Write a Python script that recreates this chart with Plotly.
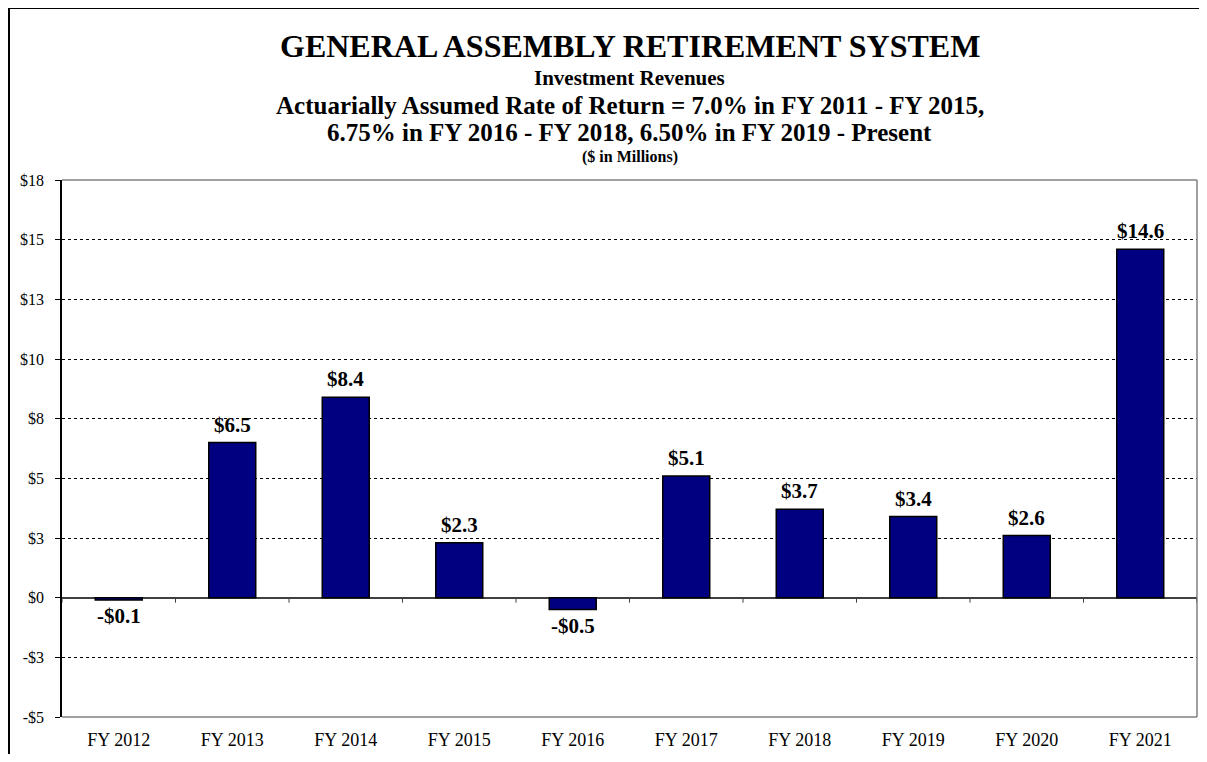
import plotly.graph_objects as go

categories = ["FY 2012", "FY 2013", "FY 2014", "FY 2015", "FY 2016",
              "FY 2017", "FY 2018", "FY 2019", "FY 2020", "FY 2021"]
revenues = [-0.1, 6.5, 8.4, 2.3, -0.5, 5.1, 3.7, 3.4, 2.6, 14.6]
y_tickvals = [-5, -2.5, 0, 2.5, 5, 7.5, 10, 12.5, 15, 17.5]
y_ticktext = ["-$5", "-$3", "$0", "$3", "$5", "$8", "$10", "$13", "$15", "$18"]

FONT = "Liberation Serif, Times New Roman, serif"

W, H = 1191, 746
ML, MR, MT, MB = 54, 2, 172, 37
PW = W - ML - MR
PH = H - MT - MB


def fmt(v):
    return f"-${abs(v):.1f}" if v < 0 else f"${v:.1f}"


x_idx = list(range(len(categories)))

fig = go.Figure()
fig.add_trace(go.Bar(
    x=x_idx, y=revenues, width=0.414,
    marker=dict(color="#000080", line=dict(color="black", width=1.5)),
    hoverinfo="skip", showlegend=False,
))

annotations = []
for xi, v in zip(x_idx, revenues):
    annotations.append(dict(
        x=xi, y=v, xref="x", yref="y", text=f"<b>{fmt(v)}</b>", showarrow=False,
        yanchor="bottom" if v >= 0 else "top",
        yshift=4 if v >= 0 else -2,
        font=dict(family=FONT, size=21, color="black"),
    ))


def py(p):  # figure-pixel y -> paper
    return (MT + PH - p) / PH


def px(p):  # figure-pixel x -> paper
    return (p - ML) / PW


titles = [
    ("GENERAL ASSEMBLY RETIREMENT SYSTEM", 38, 32),
    ("Investment Revenues", 70, 21),
    ("Actuarially Assumed Rate of Return = 7.0% in FY 2011 - FY 2015,", 97, 25),
    ("6.75% in FY 2016 - FY 2018, 6.50% in FY 2019 - Present", 124, 25),
    ("($ in Millions)", 149, 16),
]
for t, yp, s in titles:
    annotations.append(dict(
        x=0.5, y=py(yp), xref="paper", yref="paper", text=f"<b>{t}</b>",
        showarrow=False, yanchor="middle", xanchor="center",
        font=dict(family=FONT, size=s, color="black"),
    ))

shapes = []
for x0, x1, y0, y1 in [(0, 1, 1, 1), (1, 1, 0, 1), (0, 1, 0, 0)]:
    shapes.append(dict(type="line", xref="paper", yref="paper", x0=x0, x1=x1, y0=y0, y1=y1,
                       line=dict(color="#808080", width=1.5), layer="above"))
for k in range(len(categories) + 1):
    shapes.append(dict(type="line", xref="x", yref="y", x0=k - 0.5, x1=k - 0.5,
                       y0=0, y1=-0.21, line=dict(color="#404040", width=1)))
# outer chart border (left and top edges of the chart area)
shapes.append(dict(type="line", xref="paper", yref="paper",
                   x0=px(1), x1=px(1), y0=py(H + 5), y1=py(0),
                   line=dict(color="black", width=2)))
shapes.append(dict(type="line", xref="paper", yref="paper",
                   x0=px(0), x1=px(W + 5), y0=py(0), y1=py(0),
                   line=dict(color="black", width=2)))

fig.update_layout(
    width=W, height=H,
    margin=dict(l=ML, r=MR, t=MT, b=MB),
    paper_bgcolor="white", plot_bgcolor="white",
    font=dict(family=FONT, color="black"),
    annotations=annotations,
    shapes=shapes,
    xaxis=dict(
        range=[-0.5, len(categories) - 0.5],
        tickvals=x_idx, ticktext=categories,
        showgrid=False, zeroline=False, showline=False,
        ticks="", ticklabelstandoff=10,
        tickfont=dict(family=FONT, size=18, color="black"),
        fixedrange=True,
    ),
    yaxis=dict(
        range=[-5, 17.5],
        tickvals=y_tickvals, ticktext=y_ticktext,
        showgrid=True, gridcolor="black", griddash="dot", gridwidth=1,
        zeroline=True, zerolinecolor="#404040", zerolinewidth=1.5,
        showline=True, linecolor="black", linewidth=1.5,
        ticks="outside", ticklen=5, tickcolor="black", tickwidth=1,
        ticklabelstandoff=8,
        tickfont=dict(family=FONT, size=16, color="black"),
        fixedrange=True,
    ),
)

fig.write_html("out.html")
